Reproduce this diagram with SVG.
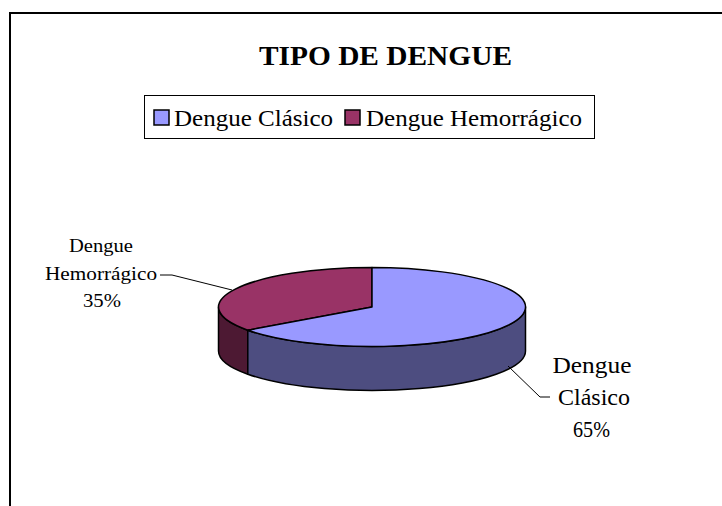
<svg xmlns="http://www.w3.org/2000/svg" width="722" height="506" viewBox="0 0 722 506">
  <style>
    .serif { font-family: "Liberation Serif", "Times New Roman", serif; fill: #000; }
    .edge { stroke: #000; stroke-width: 1.5; stroke-linejoin: round; }
    .lead { stroke: #000; stroke-width: 1; fill: none; }
  </style>
  <rect x="0" y="0" width="722" height="506" fill="#fff"/>
  <rect id="frame" x="10" y="13" width="800" height="600" fill="none" stroke="#000" stroke-width="2"/>

  <g id="title">
    <text class="serif" x="385.5" y="65" font-size="28" font-weight="bold" text-anchor="middle" textLength="253" lengthAdjust="spacingAndGlyphs">TIPO DE DENGUE</text>
  </g>

  <g id="legend">
    <rect x="144.5" y="95.5" width="450" height="43" fill="#fff" stroke="#000" stroke-width="1"/>
    <rect x="154" y="110" width="15" height="15" fill="#9999FF" stroke="#000" stroke-width="1.5"/>
    <text class="serif" x="174" y="125.5" font-size="24" textLength="159" lengthAdjust="spacingAndGlyphs">Dengue Clásico</text>
    <rect x="345" y="110" width="15" height="15" fill="#993366" stroke="#000" stroke-width="1.5"/>
    <text class="serif" x="366" y="125.5" font-size="24" textLength="216" lengthAdjust="spacingAndGlyphs">Dengue Hemorrágico</text>
  </g>

  <g id="slice-hemorragico">
    <path class="edge" fill="#4D1933" d="M 218.5,307 L 218.5,351 A 153.5 39.5 0 0 0 247.8,374.2 L 247.8,330.2 A 153.5 39.5 0 0 1 218.5,307 Z"/>
    <path class="edge" fill="#993366" d="M 372,307 L 247.8,330.2 A 153.5 39.5 0 0 1 372,267.5 Z"/>
  </g>
  <g id="slice-clasico">
    <path class="edge" fill="#4D4D80" d="M 525.5,307 L 525.5,351 A 153.5 39.5 0 0 1 247.8,374.2 L 247.8,330.2 A 153.5 39.5 0 0 0 525.5,307 Z"/>
    <path class="edge" fill="#9999FF" d="M 372,307 L 372,267.5 A 153.5 39.5 0 1 1 247.8,330.2 Z"/>
  </g>

  <g id="connectors">
    <polyline class="lead" points="160,275 172,275 232,290"/>
    <polyline class="lead" points="508,366 540,397 550,397"/>
  </g>

  <g id="label-hemorragico">
    <text class="serif" x="101" y="252" font-size="19" text-anchor="middle" textLength="64" lengthAdjust="spacingAndGlyphs">Dengue</text>
    <text class="serif" x="101" y="280" font-size="19" text-anchor="middle" textLength="112" lengthAdjust="spacingAndGlyphs">Hemorrágico</text>
    <text class="serif" x="102" y="307" font-size="19" text-anchor="middle" textLength="38" lengthAdjust="spacingAndGlyphs">35%</text>
  </g>
  <g id="label-clasico">
    <text class="serif" x="592" y="373" font-size="23" text-anchor="middle" textLength="79" lengthAdjust="spacingAndGlyphs">Dengue</text>
    <text class="serif" x="594" y="405" font-size="23" text-anchor="middle" textLength="72" lengthAdjust="spacingAndGlyphs">Clásico</text>
    <text class="serif" x="591.5" y="437" font-size="23" text-anchor="middle" textLength="37" lengthAdjust="spacingAndGlyphs">65%</text>
  </g>
</svg>
